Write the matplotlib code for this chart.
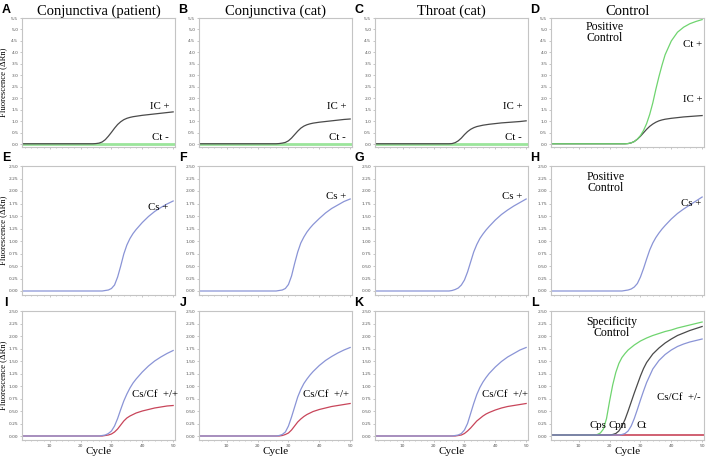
import matplotlib
matplotlib.use("Agg")
import matplotlib.pyplot as plt
import numpy as np

cycles = [1, 10, 20, 24, 25, 26, 27, 28, 29, 30, 31, 32, 33, 34, 35, 36, 37, 38, 40, 42, 44, 46, 48, 50]

# top row: internal control (IC) and C. trachomatis (Ct)
ic_a = [0.02, 0.02, 0.02, 0.02, 0.03, 0.05, 0.1, 0.2, 0.35, 0.52, 0.7, 0.86, 0.98, 1.07, 1.13, 1.17, 1.2, 1.22, 1.26, 1.29, 1.32, 1.35, 1.38, 1.41]
ic_b = [0.02, 0.02, 0.02, 0.02, 0.02, 0.02, 0.03, 0.05, 0.08, 0.15, 0.27, 0.42, 0.57, 0.7, 0.79, 0.85, 0.89, 0.92, 0.96, 0.99, 1.02, 1.05, 1.08, 1.1]
ic_c = [0.02, 0.02, 0.02, 0.02, 0.02, 0.03, 0.07, 0.15, 0.27, 0.42, 0.55, 0.65, 0.72, 0.77, 0.8, 0.83, 0.85, 0.87, 0.9, 0.93, 0.95, 0.97, 0.99, 1.02]
ic_d = [0.02, 0.02, 0.02, 0.02, 0.02, 0.03, 0.06, 0.12, 0.22, 0.35, 0.5, 0.65, 0.78, 0.88, 0.96, 1.02, 1.06, 1.09, 1.13, 1.16, 1.19, 1.21, 1.23, 1.25]
ct_d = [0.02, 0.02, 0.02, 0.02, 0.02, 0.03, 0.06, 0.12, 0.22, 0.38, 0.6, 0.9, 1.3, 1.8, 2.4, 2.95, 3.45, 3.9, 4.5, 4.88, 5.1, 5.25, 5.35, 5.43]
neg_cycles = [1, 50.5]
ct_neg = [0.0, 0.0]

# middle row: C. felis single target (Cs)
cs_e = [0, 0, 0, 0, 0, 0, 0, 0.01, 0.02, 0.05, 0.12, 0.28, 0.5, 0.74, 0.92, 1.05, 1.15, 1.23, 1.37, 1.49, 1.59, 1.67, 1.74, 1.8]
cs_f = [0, 0, 0, 0, 0, 0, 0.01, 0.02, 0.05, 0.13, 0.3, 0.55, 0.78, 0.96, 1.08, 1.18, 1.26, 1.33, 1.45, 1.56, 1.65, 1.72, 1.79, 1.84]
cs_g = [0, 0, 0, 0, 0, 0.01, 0.03, 0.06, 0.12, 0.22, 0.38, 0.58, 0.78, 0.93, 1.05, 1.14, 1.22, 1.29, 1.42, 1.53, 1.62, 1.7, 1.77, 1.84]
cs_h = [0, 0, 0, 0, 0.01, 0.02, 0.04, 0.08, 0.15, 0.28, 0.45, 0.64, 0.82, 0.96, 1.07, 1.16, 1.24, 1.31, 1.44, 1.55, 1.64, 1.72, 1.8, 1.88]

# bottom row: duplex Cs (blue) / Cf (red)
cs_i = [0, 0, 0, 0, 0, 0, 0.01, 0.02, 0.05, 0.1, 0.2, 0.35, 0.53, 0.7, 0.84, 0.96, 1.06, 1.14, 1.28, 1.4, 1.5, 1.58, 1.65, 1.71]
cf_i = [0, 0, 0, 0, 0, 0, 0, 0.01, 0.02, 0.04, 0.08, 0.14, 0.22, 0.3, 0.36, 0.4, 0.43, 0.46, 0.5, 0.53, 0.56, 0.58, 0.6, 0.61]
cs_j = [0, 0, 0, 0, 0, 0, 0.01, 0.03, 0.08, 0.2, 0.38, 0.58, 0.78, 0.93, 1.05, 1.14, 1.22, 1.29, 1.41, 1.51, 1.59, 1.66, 1.72, 1.77]
cf_j = [0, 0, 0, 0, 0, 0, 0, 0.01, 0.03, 0.06, 0.12, 0.2, 0.28, 0.34, 0.39, 0.43, 0.46, 0.49, 0.53, 0.56, 0.59, 0.61, 0.63, 0.65]
cs_k = [0, 0, 0, 0, 0, 0, 0.01, 0.02, 0.05, 0.12, 0.25, 0.45, 0.65, 0.83, 0.97, 1.08, 1.17, 1.25, 1.38, 1.49, 1.58, 1.65, 1.72, 1.77]
cf_k = [0, 0, 0, 0, 0, 0, 0, 0.01, 0.02, 0.05, 0.1, 0.16, 0.23, 0.3, 0.35, 0.4, 0.44, 0.47, 0.52, 0.56, 0.59, 0.61, 0.63, 0.65]

# panel L: specificity control
cycles_l = [1, 10, 14, 15, 16, 17, 18, 19, 20, 21, 22, 23, 24, 25, 26, 27, 28, 29, 30, 31, 32, 34, 36, 38, 40, 42, 44, 46, 48, 50]
cps_l = [0.02, 0.02, 0.02, 0.02, 0.03, 0.06, 0.14, 0.35, 0.7, 1.02, 1.27, 1.45, 1.57, 1.65, 1.72, 1.77, 1.82, 1.86, 1.9, 1.93, 1.96, 2.01, 2.05, 2.09, 2.12, 2.16, 2.19, 2.22, 2.25, 2.28]
cpn_l = [0.02, 0.02, 0.02, 0.02, 0.02, 0.02, 0.02, 0.02, 0.02, 0.03, 0.05, 0.1, 0.2, 0.33, 0.5, 0.68, 0.86, 1.03, 1.2, 1.35, 1.47, 1.64, 1.76, 1.86, 1.94, 2.01, 2.06, 2.11, 2.15, 2.19]
ct_l = [0.02, 0.02, 0.02, 0.02, 0.02, 0.02, 0.02, 0.02, 0.02, 0.02, 0.02, 0.02, 0.03, 0.05, 0.1, 0.2, 0.35, 0.53, 0.72, 0.9, 1.07, 1.34, 1.51, 1.63, 1.72, 1.79, 1.84, 1.88, 1.91, 1.94]
flat_l = [0.02, 0.02]

titles = ["Conjunctiva (patient)", "Conjunctiva (cat)", "Throat (cat)", "Control"]
letters = ["A", "B", "C", "D", "E", "F", "G", "H", "I", "J", "K", "L"]

GREEN = "#6fd46f"
PALE_GREEN = "#9be59b"
GREY = "#4a4a4a"
BLUE = "#8a94d6"
RED = "#c8455a"
SERIF = "Liberation Serif"

W, H = 708, 461
fig = plt.figure(figsize=(W / 100, H / 100), dpi=100)

col_left = [22, 199, 375, 551]
ax_w = 153
row_top = [18, 166, 311]
ax_h = 129

axes = []
for r in range(3):
    for c in range(4):
        ax = fig.add_axes([col_left[c] / W, 1 - (row_top[r] + ax_h) / H, ax_w / W, ax_h / H])
        axes.append(ax)

for i, ax in enumerate(axes):
    r, c = divmod(i, 4)
    ax.set_xlim(1, 50.6)
    if r == 0:
        ax.set_ylim(-0.12, 5.5)
        ax.set_yticks(np.arange(0, 5.51, 0.5))
        ax.set_yticklabels([f"{v:.1f}" for v in np.arange(0, 5.51, 0.5)])
    else:
        ax.set_ylim(-0.08, 2.5)
        ax.set_yticks(np.arange(0, 2.51, 0.25))
        ax.set_yticklabels([f"{v:.2f}" for v in np.arange(0, 2.51, 0.25)])
    ax.set_xticks([10, 20, 30, 40, 50])
    ax.set_xticks(np.arange(2, 51, 2), minor=True)
    if r < 2:
        ax.set_xticklabels([])
    for s in ax.spines.values():
        s.set_color("#c4c4c4")
        s.set_linewidth(0.8)
    ax.tick_params(which="both", length=1.5, width=0.5, color="#b0b0b0",
                   labelsize=3.2, labelcolor="#555555", pad=1.2)
    ax.tick_params(which="minor", length=1)
    if c == 0:
        ax.set_ylabel("Fluorescence (\u0394Rn)", family=SERIF, fontsize=6.2)
        ax.yaxis.set_label_coords(-0.098, 0.5)
    if r == 2:
        ax.set_xlabel("Cycle", family=SERIF, fontsize=8)
        ax.xaxis.set_label_coords(0.5, -0.058)
    if r == 0:
        ax.set_title(titles[c], family=SERIF, fontsize=10.5, pad=2)
    fig.text((col_left[c] - 16) / W, 1 - (row_top[r] - 8) / H, letters[i],
             fontsize=9, fontweight="bold", family="Liberation Sans",
             ha="center", va="center")

def lab(ax, x, y, s, size=7.8, **kw):
    ax.text(x, y, s, family=SERIF, fontsize=size, ha="center", va="center", **kw)

# top row
for ax, ic in zip(axes[:3], [ic_a, ic_b, ic_c]):
    ax.plot(neg_cycles, ct_neg, color=PALE_GREEN, lw=2.0)
    ax.plot(cycles, ic, color=GREY, lw=0.9)
    lab(ax, 45.5, 1.65, "IC +")
    lab(ax, 45.8, 0.3, "Ct -")

ax = axes[3]
ax.plot(cycles, ic_d, color=GREY, lw=0.9)
ax.plot(cycles, ct_d, color=GREEN, lw=0.9)
lab(ax, 47, 4.33, "Ct +")
lab(ax, 47, 1.94, "IC +")
lab(ax, 18.4, 4.87, "Positive\nControl", size=8.5, linespacing=0.85)

# middle row
for ax, cs, (tx, ty) in zip(axes[4:8], [cs_e, cs_f, cs_g, cs_h],
                            [(45, 1.67), (45.5, 1.89), (45.3, 1.89), (46.5, 1.75)]):
    ax.plot(cycles, cs, color=BLUE, lw=0.9)
    lab(ax, tx, ty, "Cs +")
lab(axes[7], 18.8, 2.17, "Positive\nControl", size=8.5, linespacing=0.85)

# bottom row
for ax, cs, cf, tx in zip(axes[8:11], [cs_i, cs_j, cs_k], [cf_i, cf_j, cf_k], [44, 42.2, 43.2]):
    ax.plot(cycles, cf, color=RED, lw=0.9)
    ax.plot(cycles, cs, color=BLUE, lw=0.9)
    lab(ax, tx, 0.83, "Cs/Cf  +/+")

ax = axes[11]
ax.plot(neg_cycles, flat_l, color=RED, lw=1.2)
ax.plot(cycles_l, cps_l, color=GREEN, lw=0.9)
ax.plot(cycles_l, cpn_l, color=GREY, lw=0.9)
ax.plot(cycles_l, ct_l, color=BLUE, lw=0.9)
lab(ax, 20.8, 2.17, "Specificity\nControl", size=8.5, linespacing=0.85)
lab(ax, 16.2, 0.22, "Cps")
lab(ax, 22.5, 0.22, "Cpn")
lab(ax, 30.3, 0.22, "Ct")
lab(ax, 42.4, 0.77, "Cs/Cf  +/-")

fig.savefig("out.png", dpi=100)
